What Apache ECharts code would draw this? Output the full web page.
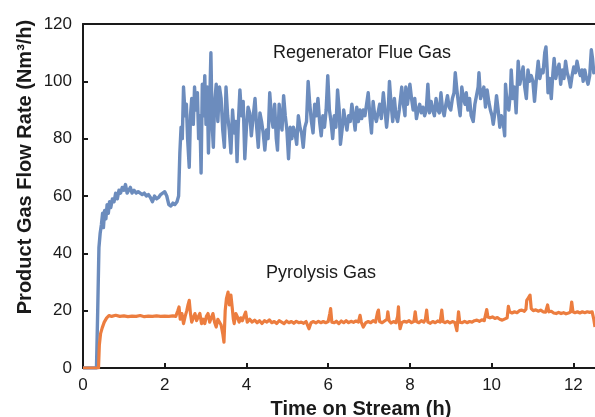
<!DOCTYPE html>
<html>
<head>
<meta charset="utf-8">
<script src="https://cdn.jsdelivr.net/npm/echarts@6/dist/echarts.min.js"></script>
<style>
  html, body { margin: 0; padding: 0; background: #fff; }
  #chart { width: 595px; height: 417px; }
</style>
</head>
<body>
<div id="chart"></div>
<script>
// Regenerator flue gas flow rate, [time on stream (h), Nm3/h]
const flueGas = [
  [0,0],[0.33,0],[0.36,20],[0.39,42],[0.42,47],[0.45,50],[0.48,54],[0.5,49],[0.53,55],[0.56,52],
  [0.59,57],[0.62,54],[0.65,58],[0.68,56],[0.72,59],[0.76,58],[0.8,61],[0.84,59],[0.88,62],[0.92,61],
  [0.96,63],[1.0,62],[1.04,64],[1.08,61],[1.12,62],[1.16,63],[1.2,61],[1.25,62],[1.3,61],[1.35,61.5],
  [1.4,61],[1.45,60.5],[1.5,61],[1.55,60],[1.6,60.5],[1.65,59.5],[1.7,58],[1.75,60],[1.8,59],[1.85,59.5],
  [1.9,60.5],[1.95,61],[2.0,61.5],[2.05,60],[2.1,57],[2.15,56.5],[2.2,57.5],[2.25,57],[2.3,58],[2.34,60],
  [2.37,75],[2.4,84],[2.43,80],[2.46,98],[2.5,88],[2.53,92],[2.56,80],[2.6,70],[2.63,88],[2.66,94],
  [2.7,85],[2.73,98],[2.76,90],[2.8,96],[2.83,80],[2.86,88],[2.89,68],[2.92,99],[2.95,88],[2.98,102],
  [3.01,85],[3.04,98],[3.07,75],[3.1,92],[3.13,110],[3.16,85],[3.19,77],[3.22,92],[3.26,99],[3.3,86],
  [3.34,98],[3.38,94],[3.42,83],[3.46,77],[3.5,98],[3.54,88],[3.58,83],[3.62,75],[3.66,90],[3.7,82],
  [3.74,86],[3.77,72],[3.8,85],[3.84,97],[3.88,88],[3.92,93],[3.96,73],[4.0,84],[4.04,91],[4.08,89],
  [4.12,81],[4.16,87],[4.21,94],[4.25,84],[4.29,77],[4.33,89],[4.37,86],[4.41,82],[4.45,76],[4.49,83],
  [4.53,80],[4.57,96],[4.61,88],[4.65,84],[4.69,92],[4.73,80],[4.76,76],[4.8,92],[4.84,86],[4.87,83],
  [4.91,95],[4.95,88],[4.99,83],[5.03,73],[5.07,84],[5.11,80],[5.15,84],[5.19,82],[5.23,78],[5.27,88],
  [5.31,84],[5.35,82],[5.39,77],[5.43,84],[5.47,86],[5.51,100],[5.55,92],[5.59,86],[5.63,82],[5.67,92],
  [5.71,88],[5.75,94],[5.79,86],[5.83,81],[5.87,88],[5.91,84],[5.95,90],[5.99,102],[6.03,90],[6.07,86],
  [6.11,80],[6.15,88],[6.19,84],[6.23,97],[6.27,90],[6.3,78],[6.34,83],[6.38,90],[6.42,86],[6.46,83],
  [6.5,88],[6.54,86],[6.58,92],[6.62,88],[6.66,83],[6.7,91],[6.74,86],[6.78,90],[6.82,87],[6.86,90],
  [6.9,88],[6.94,92],[6.98,96],[7.02,88],[7.06,82],[7.1,93],[7.14,88],[7.18,86],[7.22,89],[7.26,92],
  [7.3,87],[7.35,96],[7.39,90],[7.43,84],[7.47,90],[7.5,100],[7.54,92],[7.58,86],[7.62,94],[7.66,88],
  [7.7,86],[7.74,90],[7.8,98],[7.84,92],[7.88,88],[7.9,98],[7.94,92],[8.0,99],[8.04,94],[8.08,90],
  [8.12,94],[8.16,87],[8.2,90],[8.24,92],[8.28,89],[8.32,91],[8.36,88],[8.4,90],[8.44,99],[8.48,89],
  [8.52,93],[8.56,90],[8.6,88],[8.64,94],[8.68,90],[8.72,89],[8.76,96],[8.8,90],[8.84,88],[8.88,92],
  [8.92,95],[8.96,91],[9.0,90],[9.04,94],[9.08,96],[9.11,103],[9.15,97],[9.19,92],[9.23,88],[9.27,98],
  [9.31,94],[9.35,92],[9.38,96],[9.42,90],[9.46,94],[9.5,88],[9.55,86],[9.59,92],[9.63,95],[9.67,98],
  [9.69,103],[9.73,94],[9.77,96],[9.81,98],[9.85,91],[9.89,97],[9.93,93],[9.97,90],[10.01,88],[10.04,85],
  [10.08,89],[10.12,95],[10.16,90],[10.2,84],[10.24,88],[10.28,86],[10.32,81],[10.34,99],[10.38,92],[10.42,90],
  [10.46,96],[10.48,104],[10.52,94],[10.56,98],[10.6,89],[10.65,107],[10.69,99],[10.73,102],[10.77,105],[10.81,98],
  [10.85,94],[10.89,104],[10.93,100],[10.97,102],[11.01,100],[11.05,93],[11.09,100],[11.14,107],[11.18,101],[11.22,104],
  [11.26,103],[11.3,110],[11.33,112],[11.36,104],[11.38,96],[11.42,101],[11.46,94],[11.5,103],[11.53,108],[11.57,101],
  [11.61,104],[11.65,106],[11.69,99],[11.73,104],[11.77,101],[11.81,107],[11.85,103],[11.89,101],[11.93,98],[11.97,102],
  [12.01,105],[12.05,103],[12.09,107],[12.13,104],[12.17,102],[12.21,104],[12.24,100],[12.28,104],[12.32,101],[12.36,99],
  [12.4,102],[12.44,111],[12.47,108],[12.5,103],[12.53,104]
];

// Pyrolysis gas flow rate, [time on stream (h), Nm3/h]
const pyrolysisGas = [
  [0,0],[0.38,0],[0.4,8],[0.43,12],[0.47,14],[0.52,16],[0.58,17.5],[0.64,18.3],[0.7,18],[0.8,18.4],
  [0.9,18],[1.0,18.2],[1.1,17.9],[1.2,18.1],[1.3,18],[1.4,18.3],[1.5,17.9],[1.6,18.1],[1.7,18],[1.8,18.2],
  [1.9,18],[2.0,18.1],[2.1,18],[2.2,18.2],[2.27,18],[2.32,20],[2.35,21.3],[2.38,17],[2.42,19],[2.46,15.5],
  [2.5,18],[2.54,20],[2.57,22],[2.6,23.6],[2.63,19],[2.66,16],[2.7,17.5],[2.74,19],[2.78,16.5],[2.82,17.8],
  [2.86,19],[2.9,15.5],[2.94,17],[2.98,15.5],[3.02,18],[3.06,19],[3.1,16],[3.14,15.5],[3.18,19],[3.22,16],
  [3.26,14.3],[3.3,17],[3.34,16.7],[3.38,15],[3.42,12],[3.45,9],[3.48,20],[3.51,24.2],[3.55,26.5],[3.58,22],
  [3.62,25.4],[3.65,21.3],[3.68,17],[3.7,15.5],[3.74,19],[3.78,17.8],[3.82,16],[3.86,17.5],[3.9,16.5],[3.94,18],
  [3.98,19.5],[4.02,16],[4.08,17],[4.14,16],[4.2,16.7],[4.26,15.8],[4.32,16.5],[4.38,15.5],[4.44,16.5],[4.5,16],
  [4.56,16.8],[4.62,15.8],[4.68,16.2],[4.74,15.5],[4.8,16.5],[4.86,16],[4.92,15.5],[4.98,16.4],[5.04,15.8],[5.1,16.2],
  [5.16,15.6],[5.22,16.3],[5.28,15.8],[5.34,16],[5.4,15.6],[5.46,16.2],[5.53,13.7],[5.58,15.8],[5.64,16.2],[5.7,15.7],
  [5.76,16.3],[5.82,15.8],[5.88,16.2],[5.94,15.8],[6.0,16.2],[6.04,19],[6.06,20.7],[6.09,16],[6.15,15.8],[6.2,16.3],
  [6.26,15.5],[6.32,16.4],[6.38,15.8],[6.44,16.5],[6.5,15.8],[6.56,16.3],[6.62,15.9],[6.68,16.4],[6.74,16],[6.78,18.4],
  [6.81,16],[6.86,14.3],[6.92,15.8],[6.98,16.2],[7.04,15.8],[7.1,16.5],[7.16,16],[7.21,19.5],[7.23,20.2],[7.26,16.2],
  [7.32,15.8],[7.38,16.4],[7.44,17],[7.46,19.6],[7.49,16.5],[7.54,15.7],[7.6,16.2],[7.66,15.8],[7.7,18],[7.72,21.3],
  [7.74,16],[7.76,13.7],[7.8,15.8],[7.86,16.3],[7.92,16],[7.98,16.5],[8.04,15.8],[8.1,16.3],[8.13,19.6],[8.16,16.2],
  [8.22,15.8],[8.28,16.5],[8.34,16],[8.38,17],[8.41,20.2],[8.44,16],[8.5,15.6],[8.56,16.2],[8.62,15.8],[8.68,16.4],
  [8.74,16],[8.78,20.2],[8.81,16.2],[8.86,15.8],[8.92,16.3],[8.98,15.7],[9.04,16.2],[9.1,15.9],[9.15,13],[9.19,19.6],
  [9.22,16],[9.28,15.8],[9.34,16.3],[9.4,15.8],[9.46,16.2],[9.52,16],[9.58,16.5],[9.64,16.7],[9.7,16.3],[9.76,16.8],
  [9.82,16.5],[9.86,17],[9.88,20.4],[9.91,17.8],[9.96,17.5],[10.02,17.8],[10.08,17.3],[10.14,17.6],[10.2,17],[10.26,16.7],
  [10.3,16.5],[10.38,17.5],[10.41,21.5],[10.44,19.6],[10.5,19.2],[10.56,19.6],[10.62,19.3],[10.68,20],[10.74,20.2],[10.8,19.8],
  [10.84,20.5],[10.86,23.6],[10.9,24.5],[10.94,25.4],[10.97,20.7],[11.02,20],[11.08,20.3],[11.14,19.8],[11.2,20.2],[11.26,19.6],
  [11.32,19.5],[11.37,22],[11.4,19.6],[11.46,19.8],[11.52,19.2],[11.58,19],[11.64,19.4],[11.7,19],[11.76,19.3],[11.82,18.9],
  [11.88,19.2],[11.93,19.5],[11.96,23],[11.99,19.6],[12.04,19.3],[12.1,19.6],[12.16,19.2],[12.22,19.6],[12.28,19.3],[12.34,19.6],
  [12.4,19.4],[12.46,19.6],[12.5,17],[12.53,14.3]
];

const xTickStep = 2;
const yTickStep = 20;
const yMax = 120;
const xMax = 12.53;

const FONT = '"Liberation Sans", Arial, Helvetica, sans-serif';
const INK = '#1a1a1a';

const chart = echarts.init(document.getElementById('chart'), null, { renderer: 'canvas' });

const baseAxis = {
  axisLine: { show: true, lineStyle: { color: INK, width: 2 } },
  axisTick: { show: true, inside: true, length: 5, lineStyle: { color: INK, width: 2 } },
  splitLine: { show: false },
  axisLabel: { color: INK, fontFamily: FONT, fontSize: 17 }
};

chart.setOption({
  animation: false,
  backgroundColor: '#ffffff',
  grid: { left: 83, right: 0, top: 24, bottom: 49, containLabel: false },
  xAxis: [
    Object.assign({}, baseAxis, {
      type: 'value', min: 0, max: xMax, interval: xTickStep,
      axisLabel: Object.assign({}, baseAxis.axisLabel, { margin: 9, showMaxLabel: false })
    }),
    {
      type: 'value', position: 'top', min: 0, max: xMax,
      axisLine: { show: true, lineStyle: { color: INK, width: 2 } },
      axisTick: { show: false }, axisLabel: { show: false }, splitLine: { show: false }
    }
  ],
  yAxis: Object.assign({}, baseAxis, {
    type: 'value', min: 0, max: yMax, interval: yTickStep,
    axisLabel: Object.assign({}, baseAxis.axisLabel, { margin: 11 })
  }),
  series: [
    {
      name: 'Regenerator Flue Gas', type: 'line', data: flueGas,
      showSymbol: false, symbol: 'none',
      lineStyle: { color: '#6C8CBD', width: 3.4, join: 'round' },
      z: 2
    },
    {
      name: 'Pyrolysis Gas', type: 'line', data: pyrolysisGas,
      showSymbol: false, symbol: 'none',
      lineStyle: { color: '#EC7D3F', width: 3.2, join: 'round' },
      z: 3
    }
  ],
  graphic: [
    {
      type: 'text', x: 361, y: 409,
      style: { text: 'Time on Stream (h)', font: 'bold 20px ' + FONT, fill: INK,
               textAlign: 'center', textVerticalAlign: 'middle' }
    },
    {
      type: 'text', x: 25, y: 167, rotation: Math.PI / 2,
      style: { text: 'Product Gas Flow Rate (Nm³/h)', font: 'bold 20px ' + FONT, fill: INK,
               textAlign: 'center', textVerticalAlign: 'middle' }
    },
    {
      type: 'text', x: 362, y: 53,
      style: { text: 'Regenerator Flue Gas', font: '18px ' + FONT, fill: INK,
               textAlign: 'center', textVerticalAlign: 'middle' }
    },
    {
      type: 'text', x: 321, y: 273,
      style: { text: 'Pyrolysis Gas', font: '18px ' + FONT, fill: INK,
               textAlign: 'center', textVerticalAlign: 'middle' }
    }
  ]
});
</script>
</body>
</html>
